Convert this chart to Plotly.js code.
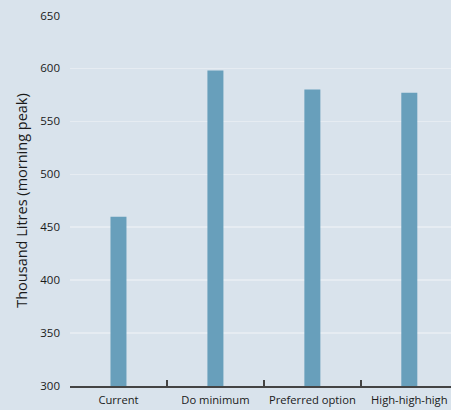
<!DOCTYPE html>
<html><head><meta charset="utf-8">
<script src="https://cdn.plot.ly/plotly-3.0.1.min.js"></script>
<style>html,body{margin:0;padding:0;background:#d9e3ec;}</style>
</head><body>
<div id="chart" style="width:451px;height:410px;"></div>
<script>
var categories = ["Current", "Do minimum", "Preferred option", "High-high-high"];
var values = [460, 598, 580, 577];
var yTicks = [300, 350, 400, 450, 500, 550, 600, 650];

var trace = {
  type: "bar",
  x: categories,
  y: values,
  width: 0.165,
  marker: {color: "#689fbb"},
  hoverinfo: "none"
};
var layout = {
  width: 451, height: 410,
  margin: {l: 70, r: 0, t: 15, b: 24},
  paper_bgcolor: "#d9e3ec",
  plot_bgcolor: "#d9e3ec",
  font: {family: "'Open Sans', sans-serif", size: 11, color: "#1a1a1a"},
  showlegend: false,
  xaxis: {
    type: "category",
    range: [-0.5, 3.43],
    showline: true, linecolor: "#444", linewidth: 2,
    ticks: "inside", tickson: "boundaries", ticklen: 6, tickcolor: "#444", tickwidth: 1.5,
    showgrid: false, zeroline: false,
    tickangle: 0,
    ticklabelstandoff: 3,
    tickfont: {size: 11.2, color: "#1a1a1a"}
  },
  yaxis: {
    range: [300, 650.5],
    tickvals: yTicks,
    showline: false, zeroline: false,
    gridcolor: "#e6ecf2", gridwidth: 1.5,
    ticks: "", ticklabelstandoff: 9,
    tickfont: {size: 11.5, color: "#1a1a1a"},
    title: {text: "Thousand Litres (morning peak)", font: {size: 14.5, color: "#1a1a1a"}, standoff: 9}
  }
};
Plotly.newPlot("chart", [trace], layout, {displayModeBar: false, staticPlot: true});
</script>
</body></html>
